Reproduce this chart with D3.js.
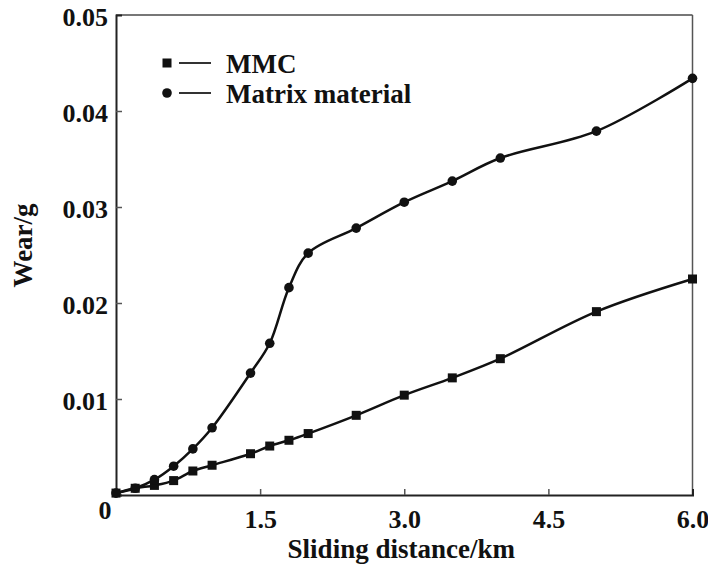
<!DOCTYPE html>
<html>
<head>
<meta charset="utf-8">
<script src="https://cdn.jsdelivr.net/npm/d3@7"></script>
<style>
  body { margin: 0; background: #fff; }
  text { font-family: "Liberation Serif", "DejaVu Serif", serif; }
</style>
</head>
<body>
<div id="chart"></div>
<script>
// sliding distance (km) at each measured point
var distance = [0, 0.2, 0.4, 0.6, 0.8, 1.0, 1.4, 1.6, 1.8, 2.0, 2.5, 3.0, 3.5, 4.0, 5.0, 6.0];
// wear (g) for each material
var mmcWear = [0.0002, 0.0007, 0.0010, 0.0015, 0.0025, 0.0031, 0.0043, 0.0051, 0.0057, 0.0064, 0.0083, 0.0104, 0.0122, 0.0142, 0.0191, 0.0225];
var matrixWear = [0.0002, 0.0007, 0.0016, 0.0030, 0.0048, 0.0070, 0.0127, 0.0158, 0.0216, 0.0252, 0.0278, 0.0305, 0.0327, 0.0351, 0.0379, 0.0434];
var xTicks = [0, 1.5, 3.0, 4.5, 6.0];
var yTicks = [0, 0.01, 0.02, 0.03, 0.04, 0.05];
var seriesNames = ["MMC", "Matrix material"];

var width = 708, height = 569;
var margin = {top: 15, right: 15, bottom: 74, left: 116};
var w = width - margin.left - margin.right,
    h = height - margin.top - margin.bottom;

var svg = d3.select("#chart").append("svg")
    .attr("width", width)
    .attr("height", height);

var g = svg.append("g")
    .attr("transform", "translate(" + margin.left + "," + margin.top + ")");

var x = d3.scaleLinear().domain([0, 6]).range([0, w - 0.5]);
var y = d3.scaleLinear().domain([0, 0.05]).range([h, 0]);

// frame top and right (lighter)
g.append("line").attr("x1", 0).attr("x2", x(6)).attr("y1", 0).attr("y2", 0)
    .attr("stroke", "#777").attr("stroke-width", 2);
g.append("line").attr("x1", x(6)).attr("x2", x(6)).attr("y1", 0).attr("y2", h)
    .attr("stroke", "#555").attr("stroke-width", 1.5);

// axes with inward ticks
var xAxis = g.append("g")
    .attr("transform", "translate(0," + h + ")")
    .call(d3.axisBottom(x).tickValues(xTicks).tickSize(-6).tickPadding(15)
        .tickFormat(function(d) { return d === 0 ? "" : d3.format(".1f")(d); }));

var yAxis = g.append("g")
    .call(d3.axisLeft(y).tickValues(yTicks).tickSize(-6).tickPadding(8)
        .tickFormat(function(d) { return d === 0 ? "" : d3.format(".2f")(d); }));

[xAxis, yAxis].forEach(function(a) {
    a.select(".domain").attr("stroke", "#222").attr("stroke-width", 2);
    a.selectAll(".tick line").attr("stroke", "#555").attr("stroke-width", 1.5);
    a.selectAll(".tick text")
        .style("font-family", "Liberation Serif")
        .style("font-size", "26px")
        .style("font-weight", "bold")
        .attr("fill", "#111");
});
xAxis.selectAll(".tick line").filter(function(d) { return d === 0 || d === 6; }).remove();
yAxis.selectAll(".tick line").filter(function(d) { return d === 0 || d === 0.05; }).remove();
yAxis.selectAll(".tick text").attr("dy", "0.4em");

// shared origin label
g.append("text")
    .attr("x", x(0) - 11)
    .attr("y", y(0) + 24)
    .attr("text-anchor", "middle")
    .attr("fill", "#111")
    .style("font-size", "26px")
    .style("font-weight", "bold")
    .text("0");

// axis titles
g.append("text")
    .attr("x", x(3) - 3)
    .attr("y", h + 63)
    .attr("text-anchor", "middle")
    .attr("fill", "#111")
    .style("font-size", "27px")
    .style("font-weight", "bold")
    .text("Sliding distance/km");

g.append("text")
    .attr("transform", "translate(" + (-84) + "," + y(0.026) + ") rotate(-90)")
    .attr("text-anchor", "middle")
    .attr("fill", "#111")
    .style("font-size", "27px")
    .style("font-weight", "bold")
    .text("Wear/g");

// lines
var line = d3.line()
    .x(function(d) { return x(d[0]); })
    .y(function(d) { return y(d[1]); })
    .curve(d3.curveCatmullRom.alpha(0.5));

var mmcData = distance.map(function(d, i) { return [d, mmcWear[i]]; });
var matrixData = distance.map(function(d, i) { return [d, matrixWear[i]]; });

[mmcData, matrixData].forEach(function(data) {
    g.append("path")
        .datum(data)
        .attr("d", line)
        .attr("fill", "none")
        .attr("stroke", "#111")
        .attr("stroke-width", 2.5);
});

// markers
g.selectAll(".sq").data(mmcData).enter().append("rect")
    .attr("class", "sq")
    .attr("x", function(d) { return x(d[0]) - 4.5; })
    .attr("y", function(d) { return y(d[1]) - 4.5; })
    .attr("width", 9).attr("height", 9)
    .attr("fill", "#111");

g.selectAll(".dot").data(matrixData).enter().append("circle")
    .attr("class", "dot")
    .attr("cx", function(d) { return x(d[0]); })
    .attr("cy", function(d) { return y(d[1]); })
    .attr("r", 4.8)
    .attr("fill", "#111");

// legend
var legend = g.append("g").attr("transform", "translate(" + (167 - margin.left) + "," + (63 - margin.top) + ")");
seriesNames.forEach(function(name, i) {
    var row = legend.append("g").attr("transform", "translate(0," + (i * 30) + ")");
    if (i === 0) {
        row.append("rect").attr("x", -4.5).attr("y", -4.5).attr("width", 9).attr("height", 9).attr("fill", "#111");
    } else {
        row.append("circle").attr("r", 4.8).attr("fill", "#111");
    }
    row.append("line").attr("x1", 12).attr("x2", 44).attr("y1", 0).attr("y2", 0)
        .attr("stroke", "#333").attr("stroke-width", 2);
    row.append("text")
        .attr("x", 59)
        .attr("y", 10)
        .attr("fill", "#111")
        .style("font-size", "27px")
        .style("font-weight", "bold")
        .text(name);
});
</script>
</body>
</html>
